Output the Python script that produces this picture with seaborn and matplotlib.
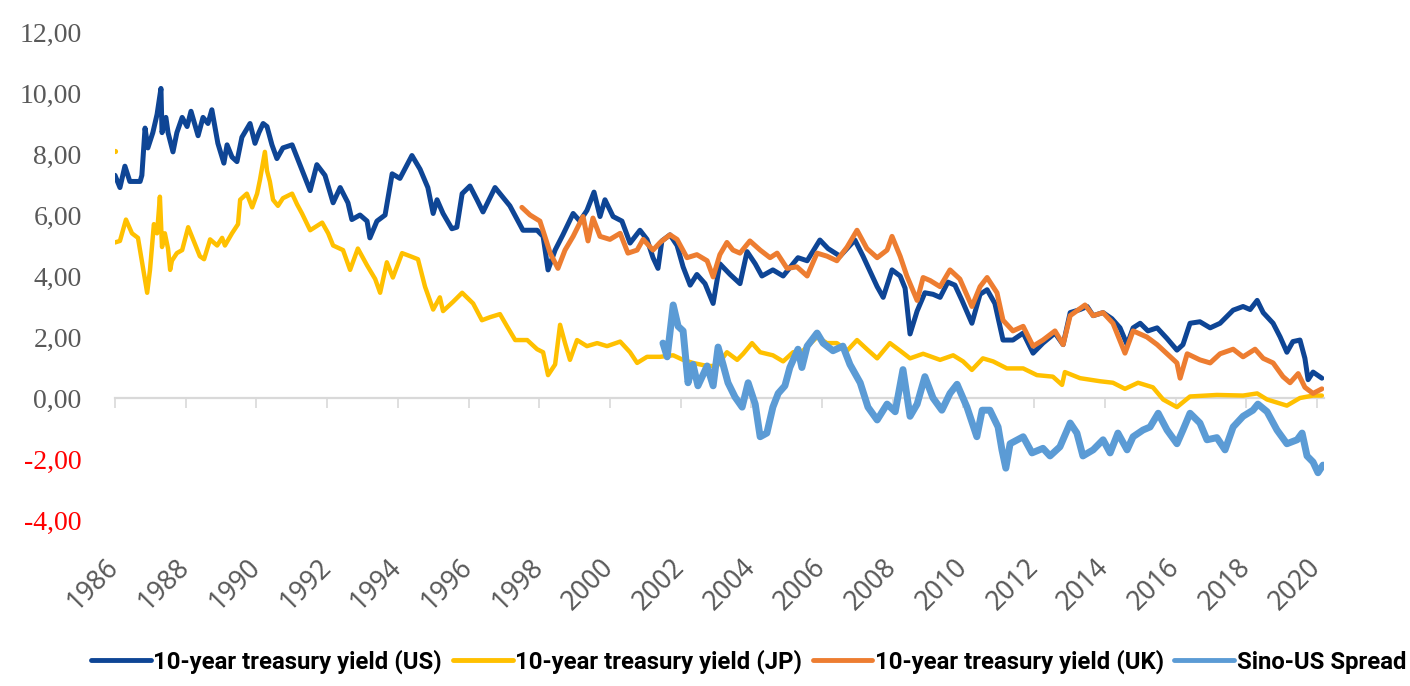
import matplotlib
matplotlib.use("Agg")
import matplotlib.pyplot as plt
import matplotlib.ticker as mticker
import seaborn as sns

# values (decimal year, yield in %)
us_year = [1986.00, 1986.14, 1986.28, 1986.42, 1986.71, 1986.76, 1986.85, 1986.93, 1987.07, 1987.19,
           1987.30, 1987.33, 1987.44, 1987.50, 1987.64, 1987.75, 1987.90, 1988.04, 1988.15, 1988.35,
           1988.49, 1988.63, 1988.74, 1988.91, 1989.08, 1989.17, 1989.31, 1989.45, 1989.59, 1989.82,
           1989.96, 1990.07, 1990.19, 1990.30, 1990.44, 1990.58, 1990.75, 1991.01, 1991.23, 1991.52,
           1991.71, 1991.94, 1992.17, 1992.37, 1992.59, 1992.70, 1992.93, 1993.13, 1993.21, 1993.41,
           1993.64, 1993.84, 1994.06, 1994.40, 1994.63, 1994.85, 1995.00, 1995.11, 1995.28, 1995.53,
           1995.67, 1995.82, 1996.04, 1996.24, 1996.41, 1996.75, 1997.17, 1997.54, 1997.94, 1998.11,
           1998.25, 1998.45, 1998.67, 1998.96, 1999.15, 1999.35, 1999.55, 1999.72, 1999.86, 2000.09,
           2000.34, 2000.57, 2000.85, 2001.05, 2001.22, 2001.36, 2001.47, 2001.70, 2001.90, 2002.07,
           2002.27, 2002.46, 2002.69, 2002.92, 2003.11, 2003.40, 2003.68, 2003.88, 2004.11, 2004.30,
           2004.61, 2004.90, 2005.32, 2005.58, 2005.94, 2006.17, 2006.51, 2006.71, 2006.93, 2007.16,
           2007.56, 2007.73, 2007.98, 2008.21, 2008.35, 2008.49, 2008.69, 2008.91, 2009.14, 2009.34,
           2009.56, 2009.76, 2009.96, 2010.24, 2010.47, 2010.67, 2010.89, 2011.12, 2011.40, 2011.69,
           2011.97, 2012.25, 2012.59, 2012.82, 2013.02, 2013.30, 2013.50, 2013.67, 2013.95, 2014.20,
           2014.43, 2014.63, 2014.80, 2015.00, 2015.22, 2015.48, 2015.76, 2016.04, 2016.21, 2016.41,
           2016.69, 2016.98, 2017.26, 2017.63, 2017.91, 2018.11, 2018.31, 2018.48, 2018.76, 2018.96,
           2019.15, 2019.32, 2019.52, 2019.66, 2019.75, 2019.89, 2020.14]
us_val = [7.3, 6.9, 7.6, 7.1, 7.1, 7.3, 8.85, 8.2, 8.7, 9.3,
          10.15, 8.7, 9.2, 8.7, 8.07, 8.7, 9.2, 8.9, 9.4, 8.6,
          9.2, 9.0, 9.45, 8.35, 7.7, 8.3, 7.9, 7.75, 8.55, 9.0,
          8.35, 8.7, 9.0, 8.9, 8.3, 7.85, 8.2, 8.3, 7.65, 6.8,
          7.65, 7.3, 6.4, 6.9, 6.4, 5.85, 6.0, 5.8, 5.25, 5.8,
          6.0, 7.35, 7.2, 7.95, 7.5, 6.9, 6.05, 6.5, 6.05, 5.55,
          5.6, 6.7, 6.95, 6.5, 6.1, 6.9, 6.3, 5.5, 5.5, 5.3,
          4.2, 4.85, 5.35, 6.05, 5.8, 6.15, 6.75, 5.95, 6.5, 5.95,
          5.8, 5.08, 5.5, 5.2, 4.6, 4.25, 5.15, 5.35, 5.0, 4.3,
          3.7, 4.05, 3.75, 3.1, 4.4, 4.05, 3.75, 4.8, 4.4, 4.0,
          4.2, 4.0, 4.6, 4.5, 5.18, 4.9, 4.65, 4.9, 5.18, 4.65,
          3.65, 3.3, 4.2, 4.0, 3.6, 2.1, 2.85, 3.45, 3.4, 3.3,
          3.8, 3.7, 3.2, 2.45, 3.4, 3.55, 3.1, 1.9, 1.9, 2.13,
          1.47, 1.8, 2.13, 1.75, 2.8, 2.9, 3.0, 2.7, 2.8, 2.6,
          2.3, 1.75, 2.3, 2.45, 2.2, 2.3, 1.95, 1.57, 1.75, 2.45,
          2.5, 2.3, 2.45, 2.88, 3.0, 2.9, 3.2, 2.8, 2.45, 2.0,
          1.5, 1.85, 1.9, 1.3, 0.6, 0.85, 0.65]

jp_year = [1986.00, 1986.14, 1986.31, 1986.48, 1986.65, 1986.91, 1986.99, 1987.10, 1987.19, 1987.27,
           1987.33, 1987.41, 1987.50, 1987.56, 1987.61, 1987.75, 1987.90, 1988.07, 1988.21, 1988.40,
           1988.52, 1988.69, 1988.89, 1989.03, 1989.11, 1989.31, 1989.48, 1989.54, 1989.73, 1989.88,
           1990.02, 1990.10, 1990.24, 1990.30, 1990.38, 1990.47, 1990.61, 1990.75, 1991.01, 1991.15,
           1991.29, 1991.52, 1991.86, 1992.03, 1992.17, 1992.45, 1992.65, 1992.87, 1993.13, 1993.36,
           1993.50, 1993.69, 1993.86, 1994.12, 1994.35, 1994.57, 1994.77, 1995.00, 1995.19, 1995.28,
           1995.56, 1995.82, 1996.13, 1996.38, 1996.61, 1996.89, 1997.09, 1997.32, 1997.66, 1997.94,
           1998.11, 1998.25, 1998.45, 1998.59, 1998.73, 1998.87, 1999.07, 1999.35, 1999.64, 1999.92,
           2000.29, 2000.57, 2000.77, 2001.05, 2001.42, 2001.79, 2002.07, 2002.35, 2002.75, 2003.03,
           2003.31, 2003.60, 2003.77, 2004.02, 2004.25, 2004.61, 2004.90, 2005.18, 2005.46, 2005.86,
           2006.14, 2006.42, 2006.71, 2006.99, 2007.27, 2007.56, 2007.92, 2008.21, 2008.49, 2008.86,
           2009.34, 2009.71, 2009.99, 2010.24, 2010.55, 2010.84, 2011.23, 2011.69, 2012.08, 2012.53,
           2012.79, 2012.87, 2013.30, 2013.86, 2014.23, 2014.57, 2014.94, 2015.36, 2015.65, 2016.04,
           2016.41, 2017.17, 2017.91, 2018.31, 2018.59, 2019.15, 2019.52, 2019.89, 2020.14]
jp_val = [5.1, 5.15, 5.85, 5.4, 5.25, 3.45, 4.2, 5.7, 5.4, 6.6,
          4.95, 5.4, 4.9, 4.2, 4.5, 4.75, 4.85, 5.6, 5.2, 4.65,
          4.55, 5.2, 5.0, 5.25, 5.0, 5.4, 5.7, 6.5, 6.7, 6.25,
          6.7, 7.15, 8.07, 7.45, 7.1, 6.5, 6.3, 6.55, 6.7, 6.35,
          6.05, 5.5, 5.75, 5.4, 5.0, 4.85, 4.2, 4.9, 4.35, 3.9,
          3.45, 4.45, 3.95, 4.75, 4.65, 4.55, 3.65, 2.9, 3.3, 2.85,
          3.15, 3.45, 3.1, 2.55, 2.65, 2.75, 2.35, 1.9, 1.9, 1.6,
          1.5, 0.75, 1.1, 2.4, 1.8, 1.25, 1.9, 1.7, 1.8, 1.7,
          1.85, 1.5, 1.15, 1.35, 1.35, 1.4, 1.25, 1.15, 1.05, 1.05,
          1.5, 1.25, 1.45, 1.8, 1.5, 1.4, 1.2, 1.5, 1.55, 2.0,
          1.8, 1.8, 1.55, 1.9, 1.6, 1.3, 1.8, 1.55, 1.3, 1.45,
          1.25, 1.4, 1.2, 0.92, 1.3, 1.2, 0.97, 0.97, 0.75, 0.7,
          0.43, 0.85, 0.65, 0.55, 0.5, 0.3, 0.5, 0.35, -0.05, -0.3,
          0.05, 0.1, 0.08, 0.15, -0.05, -0.25, 0.0, 0.08, 0.08]
jp_stray_year = [1986.0]
jp_stray_val = [8.1]

uk_year = [1997.51, 1997.74, 1998.02, 1998.16, 1998.31, 1998.53, 1998.73, 1998.96, 1999.24, 1999.38,
           1999.52, 1999.72, 2000.00, 2000.29, 2000.51, 2000.77, 2000.94, 2001.22, 2001.42, 2001.70,
           2001.90, 2002.18, 2002.46, 2002.75, 2002.92, 2003.11, 2003.31, 2003.48, 2003.68, 2003.96,
           2004.25, 2004.53, 2004.73, 2005.01, 2005.29, 2005.58, 2005.86, 2006.14, 2006.42, 2006.71,
           2006.99, 2007.27, 2007.56, 2007.84, 2007.98, 2008.21, 2008.40, 2008.69, 2008.86, 2009.06,
           2009.34, 2009.62, 2009.90, 2010.24, 2010.47, 2010.67, 2010.95, 2011.12, 2011.40, 2011.69,
           2011.97, 2012.25, 2012.59, 2012.82, 2013.02, 2013.44, 2013.67, 2013.95, 2014.23, 2014.57,
           2014.80, 2015.19, 2015.48, 2015.76, 2016.04, 2016.13, 2016.33, 2016.69, 2016.98, 2017.26,
           2017.63, 2017.91, 2018.25, 2018.48, 2018.76, 2019.04, 2019.24, 2019.47, 2019.66, 2019.89,
           2020.14]
uk_val = [6.25, 6.0, 5.8, 5.3, 4.75, 4.25, 4.85, 5.3, 5.95, 5.15,
          5.9, 5.3, 5.2, 5.4, 4.75, 4.85, 5.2, 4.85, 5.1, 5.35,
          5.2, 4.6, 4.7, 4.5, 3.97, 4.7, 5.1, 4.85, 4.75, 5.15,
          4.85, 4.6, 4.75, 4.25, 4.3, 4.0, 4.75, 4.65, 4.5, 4.95,
          5.5, 4.9, 4.6, 4.85, 5.3, 4.65, 4.0, 3.2, 3.95, 3.85,
          3.65, 4.2, 3.9, 3.0, 3.65, 3.95, 3.45, 2.55, 2.2, 2.35,
          1.7, 1.9, 2.2, 1.75, 2.7, 3.05, 2.7, 2.8, 2.45, 1.47,
          2.2, 2.0, 1.75, 1.45, 1.15, 0.65, 1.45, 1.25, 1.15, 1.45,
          1.6, 1.35, 1.6, 1.3, 1.15, 0.7, 0.5, 0.8, 0.35, 0.15,
          0.3]

spread_year = [2001.50, 2001.62, 2001.79, 2001.93, 2002.07, 2002.21, 2002.35, 2002.49, 2002.75, 2002.92,
               2003.06, 2003.20, 2003.34, 2003.54, 2003.74, 2003.91, 2004.11, 2004.25, 2004.44, 2004.61,
               2004.76, 2004.95, 2005.09, 2005.32, 2005.43, 2005.58, 2005.86, 2006.03, 2006.31, 2006.59,
               2006.79, 2007.08, 2007.30, 2007.56, 2007.84, 2008.07, 2008.29, 2008.49, 2008.69, 2008.91,
               2009.14, 2009.39, 2009.62, 2009.82, 2010.10, 2010.38, 2010.53, 2010.75, 2010.98, 2011.09,
               2011.20, 2011.32, 2011.69, 2011.94, 2012.25, 2012.45, 2012.73, 2013.02, 2013.21, 2013.38,
               2013.67, 2013.95, 2014.15, 2014.37, 2014.63, 2014.80, 2015.08, 2015.28, 2015.51, 2015.76,
               2016.04, 2016.21, 2016.41, 2016.69, 2016.89, 2017.17, 2017.40, 2017.63, 2017.91, 2018.19,
               2018.33, 2018.59, 2018.87, 2019.15, 2019.44, 2019.58, 2019.72, 2019.89, 2020.03, 2020.17]
spread_val = [1.8, 1.35, 3.05, 2.35, 2.2, 0.5, 1.1, 0.4, 1.05, 0.4,
              1.67, 1.1, 0.5, 0.03, -0.3, 0.5, -0.2, -1.27, -1.15, -0.3,
              0.15, 0.4, 1.0, 1.6, 1.0, 1.7, 2.13, 1.8, 1.55, 1.7,
              1.1, 0.5, -0.3, -0.72, -0.2, -0.45, 0.93, -0.6, -0.2, 0.7,
              0.0, -0.4, 0.15, 0.45, -0.3, -1.27, -0.4, -0.4, -0.95, -1.7,
              -2.3, -1.5, -1.27, -1.8, -1.65, -1.9, -1.6, -0.82, -1.15, -1.9,
              -1.7, -1.37, -1.8, -1.15, -1.7, -1.27, -1.05, -0.95, -0.5, -1.05,
              -1.5, -1.05, -0.5, -0.82, -1.37, -1.3, -1.7, -0.95, -0.6, -0.4,
              -0.2, -0.45, -1.05, -1.5, -1.37, -1.15, -1.9, -2.1, -2.45, -2.2]

year_ticks = list(range(1986, 2021, 2))
y_ticks = [-4, -2, 0, 2, 4, 6, 8, 10, 12]

sns.set_style("white")
plt.rcParams["font.family"] = ["Liberation Serif", "DejaVu Sans"]

fig = plt.figure(figsize=(14.1, 6.86), dpi=100)
ax = fig.add_axes([115 / 1410, 1 - 520 / 686, 1209 / 1410, 488 / 686])

sns.lineplot(x=us_year, y=us_val, ax=ax, color="#0E4595", lw=3.6, label="10-year treasury yield (US)", sort=False)
sns.lineplot(x=jp_year, y=jp_val, ax=ax, color="#FFC000", lw=3.2, label="10-year treasury yield (JP)", sort=False)
sns.scatterplot(x=jp_stray_year, y=jp_stray_val, ax=ax, color="#FFC000", s=14, linewidth=0, legend=False)
sns.lineplot(x=uk_year, y=uk_val, ax=ax, color="#ED7D31", lw=3.6, label="10-year treasury yield (UK)", sort=False)
sns.lineplot(x=spread_year, y=spread_val, ax=ax, color="#5B9BD5", lw=5.0, label="Sino-US Spread", sort=False)

ax.set_xlim(1986, 2020.2)
ax.set_ylim(-4, 12)
for s in ax.spines.values():
    s.set_visible(False)

ax.set_yticks(y_ticks)
ax.yaxis.set_major_formatter(mticker.FuncFormatter(lambda v, p: f"{v:.2f}".replace(".", ",")))
ax.tick_params(axis="y", length=0, pad=24, labelsize=20, labelcolor="#595959")
for v, t in zip(y_ticks, ax.get_yticklabels()):
    if v < 0:
        t.set_color("red")

ax.set_xticks(year_ticks)
ax.set_xticklabels([str(y) for y in year_ticks], rotation=45, ha="right", va="center",
                   rotation_mode="anchor", family=["Noto Sans", "DejaVu Sans"], fontsize=19,
                   color="#595959")
ax.tick_params(axis="x", length=0, pad=31)
ax.set_xlabel("")
ax.set_ylabel("")

# zero line with small tick marks
zero = ax.secondary_xaxis(4 / 16)
zero.set_xticks(year_ticks)
zero.tick_params(axis="x", direction="out", length=7, width=1.2, color="#D9D9D9", labelbottom=False, labeltop=False)
zero.spines["bottom"].set_color("#D9D9D9")
zero.spines["bottom"].set_linewidth(1.6)
zero.set_zorder(0)

leg = ax.legend(loc="center", bbox_to_anchor=(0.531, 1 - 662 / 686), bbox_transform=fig.transFigure,
                ncol=4, frameon=False, handlelength=2.5, handletextpad=0.1, columnspacing=0.45,
                prop={"family": ["Roboto", "Open Sans", "DejaVu Sans"], "weight": "bold", "size": 17.2})
for line in leg.get_lines():
    line.set_linewidth(3.5)
for t in leg.get_texts():
    t.set_color("black")

fig.savefig("out.png", dpi=100)
